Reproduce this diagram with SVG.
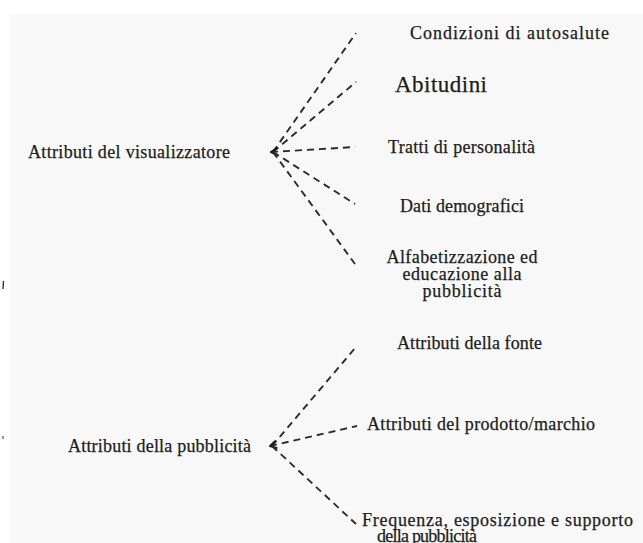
<svg xmlns="http://www.w3.org/2000/svg" width="643" height="543" viewBox="0 0 643 543">
  <style>
    .lbl { font-family: "Liberation Serif", "Times New Roman", serif; font-size: 18px; fill: #1c1c1c; stroke: #1c1c1c; stroke-width: 0.25; }
    .big { font-size: 23px; }
    .mid { text-anchor: middle; }
    .link { fill: none; stroke: #2b2b2b; stroke-width: 1.9; stroke-dasharray: 7 5; }
  </style>
  <defs>
    <!-- open chevron marking the shared end of each fan -->
    <marker id="chev" viewBox="0 0 10 10" refX="1.5" refY="5" markerWidth="10" markerHeight="10" markerUnits="userSpaceOnUse" orient="auto">
      <path d="M7.5 1.5 L1.5 5 L7.5 8.5" fill="none" stroke="#1c1c1c" stroke-width="2" stroke-linecap="round" stroke-linejoin="round"/>
    </marker>
  </defs>

  <!-- page -->
  <rect x="0" y="0" width="643" height="543" fill="#ffffff"/>
  <rect x="10" y="14" width="633" height="529" fill="#f8f8f8"/>
  <!-- small marks at the left margin -->
  <path d="M3.5 281 L3 289" stroke="#333" stroke-width="1.4"/>
  <path d="M3 436 L3 439" stroke="#555" stroke-width="1.2"/>

  <!-- connectors -->
  <g id="connectors">
    <line class="link" x1="273" y1="152" x2="356" y2="33"/>
    <line class="link" x1="273" y1="152" x2="356" y2="82"/>
    <line class="link" x1="271" y1="152" x2="355" y2="147" marker-start="url(#chev)"/>
    <line class="link" x1="273" y1="152" x2="355" y2="204"/>
    <line class="link" x1="273" y1="152" x2="355" y2="264"/>

    <line class="link" x1="272" y1="446" x2="356" y2="347"/>
    <line class="link" x1="270" y1="446" x2="357" y2="426" marker-start="url(#chev)"/>
    <line class="link" x1="272" y1="446" x2="356" y2="524"/>
  </g>

  <!-- source nodes -->
  <g id="node-visualizzatore">
    <text class="lbl" x="28" y="158" textLength="202">Attributi del visualizzatore</text>
  </g>
  <g id="node-pubblicita">
    <text class="lbl" x="68" y="452" textLength="183">Attributi della pubblicità</text>
  </g>

  <!-- viewer attributes -->
  <g id="node-autosalute">
    <text class="lbl" x="410" y="39" textLength="199">Condizioni di autosalute</text>
  </g>
  <g id="node-abitudini">
    <text class="lbl big" x="395" y="92" textLength="92">Abitudini</text>
  </g>
  <g id="node-personalita">
    <text class="lbl" x="388" y="153" textLength="147">Tratti di personalità</text>
  </g>
  <g id="node-demografici">
    <text class="lbl" x="400" y="212" textLength="124">Dati demografici</text>
  </g>
  <g id="node-alfabetizzazione">
    <text class="lbl mid" x="462" y="263" textLength="151">Alfabetizzazione ed</text>
    <text class="lbl mid" x="462" y="280" textLength="119">educazione alla</text>
    <text class="lbl mid" x="462" y="297" textLength="79">pubblicità</text>
  </g>

  <!-- advertising attributes -->
  <g id="node-fonte">
    <text class="lbl" x="397" y="349" textLength="145">Attributi della fonte</text>
  </g>
  <g id="node-prodotto">
    <text class="lbl" x="367" y="430" textLength="228">Attributi del prodotto/marchio</text>
  </g>
  <g id="node-frequenza">
    <text class="lbl" x="362" y="526" textLength="271">Frequenza, esposizione e supporto</text>
    <text class="lbl" x="377" y="542" textLength="100">della pubblicità</text>
  </g>
</svg>
